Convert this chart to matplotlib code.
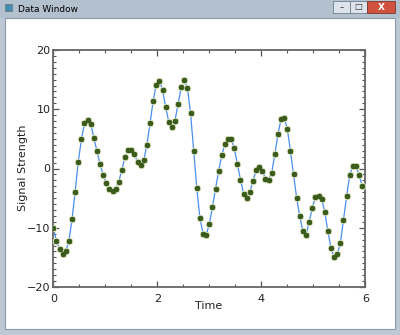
#!/usr/bin/env python3
# IDL style "Data Window" plot of a signal over time
import numpy as np
import matplotlib
matplotlib.use("Agg")
import matplotlib.pyplot as plt
from matplotlib.patches import Rectangle

# data (100 samples, step 0.06)
time = np.arange(100) * 0.06
signal = [
    -10.0, -12.2, -13.6, -14.5, -14.0, -12.2, -8.6, -3.9, 1.1, 4.9,
    7.6, 8.2, 7.5, 5.2, 2.9, 0.7, -1.1, -2.5, -3.4, -3.8,
    -3.5, -2.2, -0.2, 2.0, 3.1, 3.1, 2.4, 1.1, 0.6, 1.4,
    4.0, 7.6, 11.4, 14.1, 14.8, 13.3, 10.4, 7.9, 7.0, 8.1,
    10.9, 13.7, 15.0, 13.6, 9.3, 3.0, -3.3, -8.4, -11.0, -11.2,
    -9.4, -6.5, -3.4, -0.4, 2.2, 4.1, 5.0, 5.0, 3.4, 0.8,
    -1.9, -4.3, -5.0, -4.0, -2.1, -0.3, 0.2, -0.4, -1.7, -1.9,
    -0.7, 2.4, 5.8, 8.3, 8.6, 6.7, 3.0, -1.0, -5.0, -8.1,
    -10.6, -11.2, -9.0, -6.7, -4.8, -4.6, -5.1, -7.3, -10.6, -13.4,
    -15.0, -14.5, -12.6, -8.7, -4.7, -1.1, 0.4, 0.4, -1.1, -2.9,
]
xticks = [0, 2, 4, 6]
yticks = [-20, -10, 0, 10, 20]

W, H = 400, 335


def fx(px):
    return px / W


def fy(py):
    # pixel rows count from the top
    return 1 - py / H


fig = plt.figure(figsize=(W / 100, H / 100), dpi=100)
fig.patch.set_facecolor("#bcc8d4")

# window frame: white client area, title bar text and buttons
def rect(x0, y0, x1, y1, **kw):
    fig.patches.append(Rectangle((fx(x0), fy(y1)), fx(x1 - x0), (y1 - y0) / H,
                                 transform=fig.transFigure, figure=fig,
                                 zorder=-10, **kw))

rect(0, 0, 400, 18, facecolor="#b3c0ce", edgecolor="none")
rect(5, 18, 395, 329, facecolor="white", edgecolor="#8a99aa", linewidth=0.8)
rect(5, 4, 12, 11, facecolor="#3f8fb0", edgecolor="#666666", linewidth=0.4)
rect(333, 1, 350, 13, facecolor="#dde4ec", edgecolor="#6f7f90", linewidth=0.6)
rect(350, 1, 367, 13, facecolor="#dde4ec", edgecolor="#6f7f90", linewidth=0.6)
rect(367, 1, 395, 13, facecolor="#d0523e", edgecolor="#7a3a30", linewidth=0.6)
fig.text(fx(18), fy(9), "Data Window", fontsize=6.5, va="center", ha="left",
         color="black")
fig.text(fx(341.5), fy(8), "\u2013", fontsize=6, ha="center", va="center", color="#333333")
fig.text(fx(358.5), fy(7), "\u25a1", fontsize=6, ha="center", va="center", color="#333333")
fig.text(fx(381), fy(7), "X", fontsize=6.5, ha="center", va="center", color="white",
         fontweight="bold")

# plot axes
ax = fig.add_axes([fx(53.3), fy(287), fx(312), 237 / H])
ax.set_zorder(1)
ax.set_facecolor("white")

ax.plot(time, signal, color="#4a8ef0", linewidth=0.9, zorder=2)
# soft halo then the asterisk symbol
ax.plot(time, signal, linestyle="none", marker=(8, 2, 0), markersize=5,
        markeredgewidth=1.8, color="#dfe4c4", zorder=3)
ax.plot(time, signal, linestyle="none", marker=(8, 2, 0), markersize=3.8,
        markeredgewidth=0.9, color="#3b5c1c", zorder=4)

ax.set_xlim(0, 6)
ax.set_ylim(-20, 20)
ax.set_xticks(xticks)
ax.set_yticks(yticks)
ax.set_xticks(np.arange(0, 6.01, 0.5), minor=True)
ax.set_yticks(np.arange(-20, 20.01, 1), minor=True)
ax.tick_params(which="both", direction="in", top=True, right=True,
               color="#555555", labelsize=8, labelcolor="#222222")
ax.tick_params(which="major", length=4.5, width=0.9)
ax.tick_params(which="minor", length=2.2, width=0.8)
ax.tick_params(axis="x", which="major", pad=5)
ax.tick_params(axis="y", which="major", pad=2)
for sp in ax.spines.values():
    sp.set_color("#666666")
    sp.set_linewidth(1.3)

fig.text(fx(209), fy(306), "Time", fontsize=8, ha="center", va="center",
         color="#222222")
fig.text(fx(23), fy(168), "Signal Strength", fontsize=8, ha="center", va="center",
         rotation=90, color="#222222")

fig.savefig("out.png", dpi=100, facecolor=fig.get_facecolor())
